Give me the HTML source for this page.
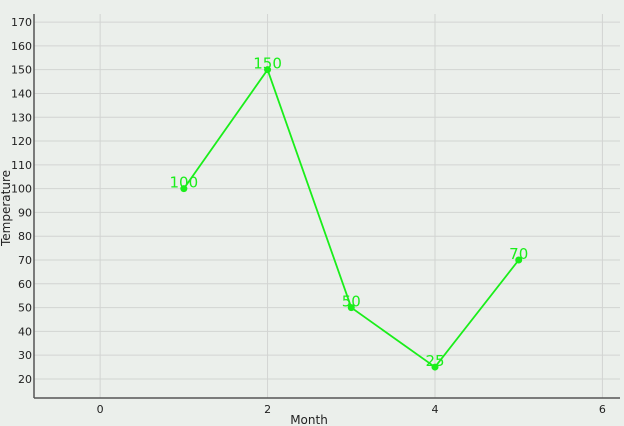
<!DOCTYPE html>
<html><head><meta charset="utf-8"><style>
html,body{margin:0;padding:0;background:#ebefeb;}
svg{display:block;font-family:"DejaVu Sans","Liberation Sans",sans-serif;}
</style></head><body>
<svg id="chart" width="624" height="426" xmlns="http://www.w3.org/2000/svg">
<rect width="624" height="426" fill="#ebefeb"/>
<g id="grid"></g>
<g id="axes"></g>
<g id="series"></g>
<text x="309" y="424" font-size="12" text-anchor="middle" fill="#222">Month</text>
<text transform="translate(10,208) rotate(-90)" font-size="12" text-anchor="middle" fill="#222">Temperature</text>
</svg>
<script>
const months = [1, 2, 3, 4, 5];
const temps = [100, 150, 50, 25, 70];
const xTicks = [0, 2, 4, 6];
const yTicks = [20, 30, 40, 50, 60, 70, 80, 90, 100, 110, 120, 130, 140, 150, 160, 170];

const L = 34, R = 620, T = 14, B = 398;
const xMin = -0.79, xMax = 6.21, yMin = 12.0, yMax = 173.4;
const xs = v => L + (v - xMin) / (xMax - xMin) * (R - L);
const ys = v => B - (v - yMin) / (yMax - yMin) * (B - T);
const NS = "http://www.w3.org/2000/svg";
function mk(tag, attrs, parent) {
  const e = document.createElementNS(NS, tag);
  for (const k in attrs) e.setAttribute(k, attrs[k]);
  parent.appendChild(e);
  return e;
}
const grid = document.getElementById('grid');
const axes = document.getElementById('axes');
const series = document.getElementById('series');

xTicks.forEach(t => {
  const x = xs(t);
  const g = mk('line', {x1: x, x2: x, y1: T, y2: B, stroke: '#d2d4d2', 'stroke-width': 1}, grid);
  
  
  const lb = mk('text', {x: x, y: B + 15, 'font-size': 11, 'text-anchor': 'middle', fill: '#222'}, axes);
  lb.textContent = t;
  
  
});
yTicks.forEach(t => {
  const y = ys(t);
  const g = mk('line', {x1: L, x2: R, y1: y, y2: y, stroke: '#d2d4d2', 'stroke-width': 1}, grid);
  
  
  const lb = mk('text', {x: L - 2, y: y + 4, 'font-size': 11, 'text-anchor': 'end', fill: '#222'}, axes);
  lb.textContent = t;
  
  
});
const ya = mk('line', {x1: L, x2: L, y1: T, y2: B, stroke: '#555', 'stroke-width': 1.5}, axes);


const xa = mk('line', {x1: L, x2: R, y1: B, y2: B, stroke: '#555', 'stroke-width': 1.5}, axes);



const pts = months.map((m, i) => xs(m) + ',' + ys(temps[i])).join(' ');
const line = mk('polyline', {points: pts, fill: 'none', stroke: '#1aee1a', 'stroke-width': 1.8}, series);


months.forEach((m, i) => {
  const c = mk('circle', {cx: xs(m), cy: ys(temps[i]), r: 3.5, fill: '#1aee1a'}, series);
  
  
  const t = mk('text', {x: xs(m), y: ys(temps[i]) - 1, 'font-size': 15, 'text-anchor': 'middle', fill: '#1aee1a'}, series);
  t.textContent = temps[i];
  
  
});
</script>
</body></html>
